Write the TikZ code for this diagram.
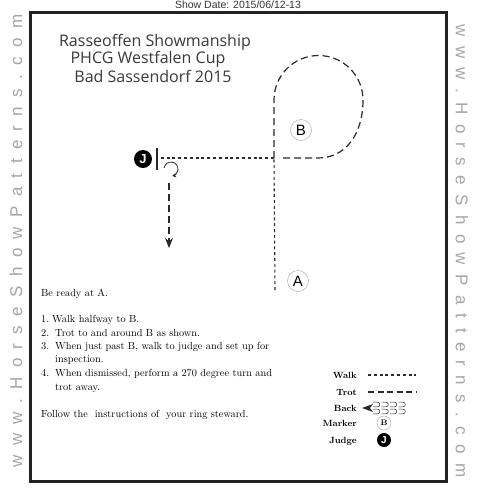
\documentclass[tikz,border=0pt]{standalone}
\usepackage{fontspec}
\usetikzlibrary{arrows.meta}
\newfontfamily\sidefont[LetterSpace=55]{Liberation Sans}
\newfontfamily\handfont{Open Sans}
\newfontfamily\arialfont{Liberation Sans}
\definecolor{ink}{HTML}{2A2A2A}
\definecolor{frame}{HTML}{222222}
\definecolor{sidegray}{HTML}{A6A6A6}
\definecolor{handink}{HTML}{3A3A3A}
\begin{document}
\begin{tikzpicture}[x=1pt,y=-1pt,
  walk/.style={line width=1.1pt, draw=ink, dash pattern=on 3pt off 2.8pt},
  trot/.style={line width=1.2pt, draw=ink, dash pattern=on 7pt off 4pt},
  ltrot/.style={line width=1.1pt, draw=ink, dash pattern=on 6pt off 3.5pt},
  marker/.style={circle, draw=gray!60, line width=0.5pt, minimum size=21pt, inner sep=0pt, font=\arialfont\fontsize{15}{15}\selectfont},
  smarker/.style={circle, draw=gray!60, line width=0.5pt, minimum size=14pt, inner sep=0pt, font=\bfseries\fontsize{8}{8}\selectfont},
  judge/.style={circle, fill=black, minimum size=18pt, inner sep=0pt, text=white, font=\arialfont\bfseries\fontsize{13}{13}\selectfont},
  sjudge/.style={circle, fill=black, minimum size=14pt, inner sep=0pt, text=white, font=\arialfont\bfseries\fontsize{10}{10}\selectfont},
  body/.style={anchor=base west, inner sep=0pt, font=\fontsize{10.3}{12}\selectfont},
  legend/.style={anchor=base east, inner sep=0pt, font=\bfseries\fontsize{9}{10}\selectfont},
  side/.style={text=sidegray, inner sep=0pt, font=\sidefont\fontsize{17}{17}\selectfont},
  hand/.style={text=handink, inner sep=0pt, font=\handfont\fontsize{16}{16}\selectfont}
]
\useasboundingbox (0,0) rectangle (479,491);
\fill[white] (0,0) rectangle (479,491);
% frame
\draw[line width=3pt, draw=frame] (30,12) rectangle (446,481);
% top text
\node[anchor=base, inner sep=0pt, font=\arialfont\fontsize{10.5}{11}\selectfont, text=black!80] (date) at (238,8.5) {Show Date: 2015/06/12-13};
% side texts
\node[side, rotate=90] (lside) at (16,241) {www.HorseShowPatterns.com};
\node[side, rotate=-90] (rside) at (462,251) {www.HorseShowPatterns.com};
% title
\node[hand] (t1) at (155,42) {Rasseoffen Showmanship};
\node[hand] (t2) at (148,59) {PHCG Westfalen Cup};
\node[hand] (t3) at (153,76) {Bad Sassendorf 2015};
% markers
\node[marker] (A) at (298,281) {A};
\node[marker] (B) at (301,130) {B};
\node[judge] (J) at (143,159) {J};
% pattern
\coordinate (start) at (275,290);
\coordinate (X) at (274,158);
\coordinate (loopL) at (274,100);
\coordinate (loopB) at (318,158);
\coordinate (loopE) at (279,158);
\coordinate (jb) at (157,158);
\coordinate (barT) at (157,148);
\coordinate (barB) at (157,170);
\coordinate (turnS) at (164.1,167.8);
\coordinate (downS) at (169,183);
\coordinate (downE) at (169,248);
\draw[walk] (start) -- (X);
\draw[trot] (X) -- (loopL) arc[start angle=180, end angle=360, radius=44.5]
  .. controls (363,135) and (345,158) .. (loopB) -- (loopE);
\draw[walk] (X) -- (jb);
\draw[line width=1.2pt, draw=ink] (barT) -- (barB);
\draw[line width=0.8pt, draw=ink, -{Stealth[length=4pt,width=4.5pt]}] (turnS) arc[start angle=190, end angle=440, radius=7];
\draw[trot, -{Stealth[length=10pt,width=8pt]}] (downS) -- (downE);
% body text
\node[body] (l0) at (41,296) {Be ready at A.};
\node[body] (n1) at (41,322) {\oldstylenums{1}.};
\node[body] (l1) at (52,322) {Walk halfway to B.};
\node[body] (n2) at (41,336) {\oldstylenums{2}.};
\node[body] (l2) at (55,336) {Trot to and around B as shown.};
\node[body] (n3) at (41,349) {\oldstylenums{3}.};
\node[body] (l3) at (55,349) {When just past B, walk to judge and set up for};
\node[body] (l3b) at (55,362) {inspection.};
\node[body] (n4) at (41,376) {\oldstylenums{4}.};
\node[body] (l4) at (55,376) {When dismissed, perform a \oldstylenums{270} degree turn and};
\node[body] (l4b) at (55,390) {trot away.};
\node[body] (l5) at (41,417) {Follow the\ \ instructions of\ \ your ring steward.};
% legend
\node[legend] (lw) at (357,378) {Walk};
\node[legend] (lt) at (357,395) {Trot};
\node[legend] (lb) at (357,411) {Back};
\node[legend] (lm) at (357,426) {Marker};
\node[legend] (lj) at (357,443) {Judge};
\coordinate (w1) at (368,375); \coordinate (w2) at (416,375);
\coordinate (r1) at (368,392); \coordinate (r2) at (416,392);
\draw[walk] (w1) -- (w2);
\draw[ltrot] (r1) -- (r2);
\coordinate (btip) at (362,408);
\fill[ink] (btip) -- (373,404) -- (370,408) -- (373,412) -- cycle;
\foreach \i in {0,1,2,3}{
  \foreach \yy in {404.5,411.5}{
    \draw[line width=0.5pt, draw=ink] (373+8.5*\i,\yy-2.3) -- (377.5+8.5*\i,\yy-2.3) arc[start angle=270, end angle=450, radius=2.3] -- (373+8.5*\i,\yy+2.3);
  }
}
\node[smarker] (lB) at (384,423) {B};
\node[sjudge] (lJ) at (384,440) {J};
\end{tikzpicture}
\end{document}
